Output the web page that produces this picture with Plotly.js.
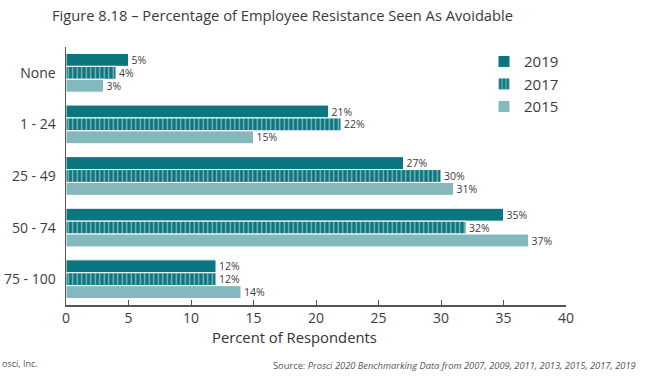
<!DOCTYPE html>
<html>
<head>
<meta charset="utf-8">
<script src="https://cdn.plot.ly/plotly-3.0.1.min.js"></script>
<style>html,body{margin:0;padding:0;background:#fff;}#chart{width:650px;height:376px;}</style>
</head>
<body>
<div id="chart"></div>
<script>
const categories = ["None", "1 - 24", "25 - 49", "50 - 74", "75 - 100"];
const years = ["2019", "2017", "2015"];
const values2019 = [5, 21, 27, 35, 12];
const values2017 = [4, 22, 30, 32, 12];
const values2015 = [3, 15, 31, 37, 14];
const xTicks = [0, 5, 10, 15, 20, 25, 30, 35, 40];

const dark = "#0b7580";
const light = "#83b9bc";
const textColor = "#3c3c3c";
const font = "Open Sans, sans-serif";

function mk(name, vals, marker) {
  return {
    type: "bar", orientation: "h", name: name,
    x: vals, y: categories,
    text: vals.map(v => v + "%"),
    textposition: "outside",
    constraintext: "none",
    cliponaxis: false,
    textfont: {family: font, size: 10.5, color: textColor},
    marker: marker,
    hoverinfo: "skip"
  };
}

const data = [
  mk(years[0], values2019, {color: dark, line: {color: "#ffffff", width: 1}}),
  mk(years[1], values2017, {color: dark, line: {color: "#ffffff", width: 1},
     pattern: {shape: "|", fgcolor: "#ffffff", bgcolor: dark, size: 4.5, solidity: 0.3, fillmode: "overlay"}}),
  mk(years[2], values2015, {color: light, line: {color: "#ffffff", width: 1}})
];

const layout = {
  width: 650, height: 376,
  margin: {l: 66, r: 84, t: 47, b: 71},
  paper_bgcolor: "#ffffff", plot_bgcolor: "#ffffff",
  font: {family: font, color: textColor},
  barmode: "group", bargap: 0.25, bargroupgap: 0,
  showlegend: true,
  title: {text: "Figure 8.18 – Percentage of Employee Resistance Seen As Avoidable",
          x: 52/650, xref: "container", xanchor: "left", y: 1 - 16/376, yref: "container", yanchor: "middle",
          font: {family: font, size: 14.7, color: "#3a3a3a"}},
  xaxis: {range: [0, 40], tickvals: xTicks, ticktext: xTicks.map(String),
          showgrid: false, zeroline: false, showline: true, linecolor: "#555555", linewidth: 1.5,
          ticks: "inside", ticklen: 5, tickcolor: "#555555", tickfont: {family: font, size: 14, color: textColor},
          fixedrange: true},
  yaxis: {autorange: "reversed", showgrid: false, zeroline: false, showline: true, linecolor: "#555555", linewidth: 1.5,
          ticks: "outside", ticklen: 6, tickcolor: "rgba(0,0,0,0)", tickfont: {family: font, size: 14, color: textColor},
          fixedrange: true},
  legend: {x: 0.836, xanchor: "left", y: 1.007, yanchor: "top", font: {family: font, size: 15, color: textColor},
           bgcolor: "rgba(0,0,0,0)", itemwidth: 30, tracegroupgap: 0},
  annotations: [
    {text: "Percent of Respondents", xref: "paper", yref: "paper", x: (294-66)/500, y: -(337-305)/258,
     xanchor: "center", yanchor: "middle", showarrow: false, font: {family: font, size: 14.8, color: "#333333"}},
    {text: "osci, Inc.", xref: "paper", yref: "paper", x: -66/500, y: -(363-305)/258,
     xanchor: "left", yanchor: "middle", showarrow: false, font: {family: font, size: 9, color: "#555555"}},
    {text: "Source: <i>Prosci 2020 Benchmarking Data from 2007, 2009, 2011, 2013, 2015, 2017, 2019</i>", xref: "paper", yref: "paper",
     x: (638-66)/500, y: -(365-305)/258, xanchor: "right", yanchor: "middle", showarrow: false,
     font: {family: font, size: 9.3, color: "#555555"}}
  ]
};

Plotly.newPlot("chart", data, layout, {displayModeBar: false, staticPlot: true});
</script>
</body>
</html>
